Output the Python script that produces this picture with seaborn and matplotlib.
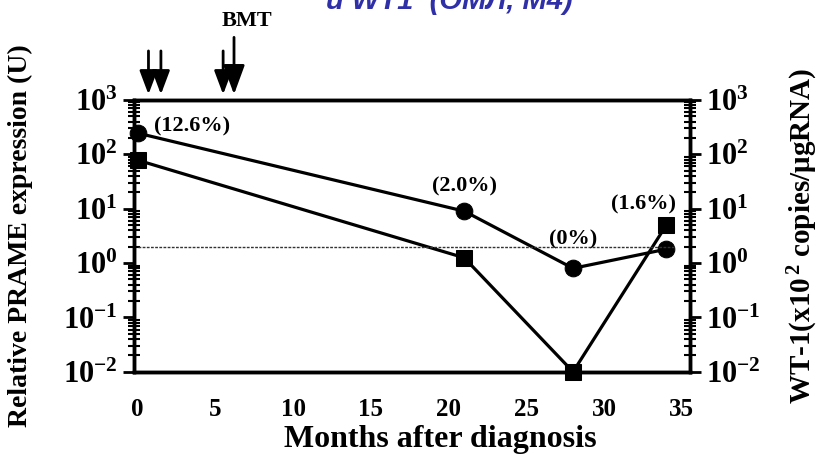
import matplotlib
matplotlib.use("Agg")
import matplotlib.pyplot as plt
import seaborn as sns
import pandas as pd
import numpy as np

# Months after diagnosis at each sampling point
months = [0, 21, 28, 34]
# Relative PRAME expression (U) - circles
prame = [245, 9.0, 0.8, 1.8]
# WT-1 (x10^2 copies/ugRNA) - squares
wt1 = [78, 1.25, 0.01, 5.0]
# Blast percentages annotated above points
blast_labels = ["(12.6%)", "(2.0%)", "(0%)", "(1.6%)"]
blast_label_x = [3.5, 21.0, 28.0, 32.5]
blast_label_y = [330, 26, 2.7, 12]
# Cut-off level (dotted line)
cutoff = 2.0
# Treatment arrows (months); last one is BMT
arrow_months = [0.7, 1.5, 5.5, 6.2]
xticks = [0, 5, 10, 15, 20, 25, 30, 35]

sns.set_theme(style="white")
plt.rcParams["font.family"] = ["Liberation Serif", "DejaVu Serif"]
plt.rcParams["font.weight"] = "bold"
plt.rcParams["text.color"] = "black"
plt.rcParams["axes.labelcolor"] = "black"
plt.rcParams["xtick.color"] = "black"
plt.rcParams["ytick.color"] = "black"
plt.rcParams["mathtext.fontset"] = "custom"
plt.rcParams["mathtext.rm"] = "Liberation Serif:bold"
plt.rcParams["mathtext.it"] = "Liberation Serif:bold"
plt.rcParams["mathtext.bf"] = "Liberation Serif:bold"
plt.rcParams["mathtext.default"] = "bf"

fig = plt.figure(figsize=(8.25, 4.54), dpi=100)
ax = fig.add_axes([0.163, 0.181, 0.673, 0.599])

df = pd.DataFrame({"month": months, "prame": prame, "wt1": wt1})

sns.lineplot(data=df, x="month", y="prame", ax=ax, color="black", lw=2.3,
             marker="o", markersize=12, markeredgecolor="black",
             markerfacecolor="black", clip_on=False)
sns.lineplot(data=df, x="month", y="wt1", ax=ax, color="black", lw=2.3,
             marker="s", markersize=12, markeredgecolor="black",
             markerfacecolor="black", clip_on=False)

ax.set_yscale("log")
ax.set_ylim(1e-2, 1e3)
ax.set_xlim(-0.2, 35.5)

ax.hlines(cutoff, 0, 34.5, colors="#333333", linestyles=(0, (2, 1)), lw=1.0)

for txt, x, y in zip(blast_labels, blast_label_x, blast_label_y):
    ax.text(x, y, txt, fontsize=16, fontweight="bold", ha="center", va="center")

# axis ticks
ax.set_xticks(xticks)
ax.set_xticklabels([str(t) for t in xticks], fontsize=18, fontweight="bold")
ax.xaxis.set_minor_locator(matplotlib.ticker.MultipleLocator(1))
ax.tick_params(axis="x", which="major", direction="out", length=8, width=2, pad=11)
ax.tick_params(axis="x", which="minor", direction="out", length=4, width=1.5)

yt = [1e-2, 1e-1, 1e0, 1e1, 1e2, 1e3]
ylabels = [r"$10^{-2}$", r"$10^{-1}$", r"$10^{0}$", r"$10^{1}$", r"$10^{2}$", r"$10^{3}$"]
ax.set_yticks(yt)
ax.set_yticklabels(ylabels, fontsize=22)
ax.yaxis.set_minor_locator(matplotlib.ticker.LogLocator(base=10, subs=np.arange(2, 10)))
ax.yaxis.set_minor_formatter(matplotlib.ticker.NullFormatter())
ax.tick_params(axis="y", which="major", direction="out", length=8, width=2, left=True, pad=4)
ax.tick_params(axis="y", which="minor", direction="inout", length=8, width=1.5, left=True)

ax2 = ax.twinx()
ax2.set_yscale("log")
ax2.set_ylim(1e-2, 1e3)
ax2.set_yticks(yt)
ax2.set_yticklabels(ylabels, fontsize=22)
ax2.yaxis.set_minor_locator(matplotlib.ticker.LogLocator(base=10, subs=np.arange(2, 10)))
ax2.yaxis.set_minor_formatter(matplotlib.ticker.NullFormatter())
ax2.tick_params(axis="y", which="major", direction="out", length=8, width=2, right=True, pad=4)
ax2.tick_params(axis="y", which="minor", direction="inout", length=8, width=1.5, right=True)

for a in (ax, ax2):
    for s in a.spines.values():
        s.set_linewidth(2.5)
        s.set_color("black")

ax.set_xlabel("Months after diagnosis", fontsize=23, fontweight="bold", labelpad=3)
ax.xaxis.label.set_x(0.55)
ax.set_ylabel("Relative PRAME expression (U)", fontsize=20, fontweight="bold", labelpad=22)
ax2.set_ylabel(r"WT-1(x10$^{\,2}$ copies/$\mathbf{\mu}$gRNA)", fontsize=21,
               fontweight="bold", rotation=90, labelpad=18)

# treatment arrows above the plot; the BMT arrow is taller with a larger head
trans = matplotlib.transforms.blended_transform_factory(ax.transData, ax.transAxes)
starts = [1.18, 1.18, 1.18, 1.23]
heads = [(0.45, 1.2), (0.45, 1.2), (0.45, 1.2), (0.55, 1.5)]
for m, s, (hw, hl) in zip(arrow_months, starts, heads):
    ax.annotate("", xy=(m, 1.02), xycoords=trans, xytext=(m, s), textcoords=trans,
                arrowprops=dict(arrowstyle=f"-|>,head_width={hw},head_length={hl}",
                                color="black", lw=2, shrinkA=0, shrinkB=0),
                annotation_clip=False)
ax.text(7.0, 1.29, "BMT", transform=trans, fontsize=16, fontweight="bold",
        ha="center", va="center")

fig.text(0.545, 0.98, "и WT1  (ОМЛ, М4)", fontsize=21, color="#2f2fa8",
         family=["Liberation Sans", "DejaVu Sans"], fontweight="bold",
         style="italic", ha="center", va="baseline")

fig.savefig("out.png", dpi=100)
